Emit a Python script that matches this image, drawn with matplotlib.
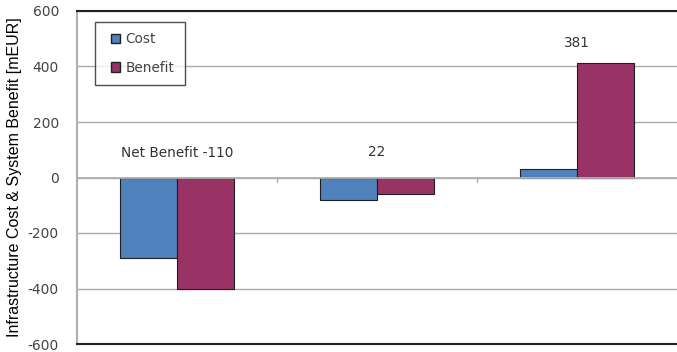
import numpy as np
import matplotlib
matplotlib.use("Agg")
import matplotlib.pyplot as plt
from matplotlib.patches import Patch, Rectangle
from matplotlib.legend_handler import HandlerPatch

# data
groups = ["A", "B", "C"]
cost = [-290, -82, 32]
benefit = [-400, -60, 414]
net_labels = ["Net Benefit -110", "22", "381"]
label_y = [88, 92, 484]

cost_color = "#4F81BD"
benefit_color = "#993366"


def square(legend, orig_handle, xdescent, ydescent, width, height, fontsize):
    # small square at the right end of the handle box
    return Rectangle((width - height - xdescent, -ydescent), height, height)


fig = plt.figure(figsize=(6.77, 3.52), dpi=100)
ax = fig.add_axes([77 / 677, 8 / 352, 600 / 677, 333 / 352])

x = np.arange(len(groups))
w = 0.285
ax.bar(x - w / 2, cost, w, color=cost_color, edgecolor="#1f1f1f", linewidth=0.8, zorder=3)
ax.bar(x + w / 2, benefit, w, color=benefit_color, edgecolor="#1f1f1f", linewidth=0.8, zorder=3)

for lx, ly, t in zip(x, label_y, net_labels):
    ax.text(lx, ly, t, ha="center", va="center", fontsize=9.8, color="#333333",
            family="DejaVu Sans")

ax.set_xlim(-0.5, 2.5)
ax.set_ylim(-600, 600)
ax.set_yticks(np.arange(-600, 601, 200))
ax.set_yticklabels([str(v) for v in range(-600, 601, 200)], color="#444444", fontsize=10)
ax.tick_params(axis="y", length=0, pad=13)
ax.set_xticks([])

# grid and zero line
ax.grid(axis="y", color="#ababab", linewidth=1, zorder=0)
ax.axhline(0, color="#b0b0b0", linewidth=1.3, zorder=4)
for b in [0.5, 1.5]:
    ax.plot([b, b], [0, -15], color="#b0b0b0", linewidth=1, zorder=4)

for s in ["top", "bottom"]:
    ax.spines[s].set_color("#222222")
    ax.spines[s].set_linewidth(1.5)
ax.spines["left"].set_color("#b0b0b0")
ax.spines["left"].set_linewidth(1.5)
ax.spines["right"].set_visible(False)

ax.set_ylabel("Infrastructure Cost & System Benefit [mEUR]", family="Liberation Sans",
              fontsize=11.5)
ax.yaxis.set_label_coords(-0.092, 0.5)

handles = [Patch(facecolor=cost_color, edgecolor="#222222", label="Cost"),
           Patch(facecolor=benefit_color, edgecolor="#222222", label="Benefit")]
leg = ax.legend(handles=handles, loc="upper left", bbox_to_anchor=(18 / 600, 1 - 11 / 333),
                fontsize=9.8, frameon=True, fancybox=False, borderpad=0.75,
                labelspacing=1.05, handlelength=1.1, handleheight=0.7,
                borderaxespad=0, handletextpad=0.4,
                handler_map={Patch: HandlerPatch(patch_func=square)})
leg.get_frame().set_edgecolor("#222222")
leg.get_frame().set_linewidth(1)
for t in leg.get_texts():
    t.set_color("#444444")

fig.savefig("out.png", dpi=100)
